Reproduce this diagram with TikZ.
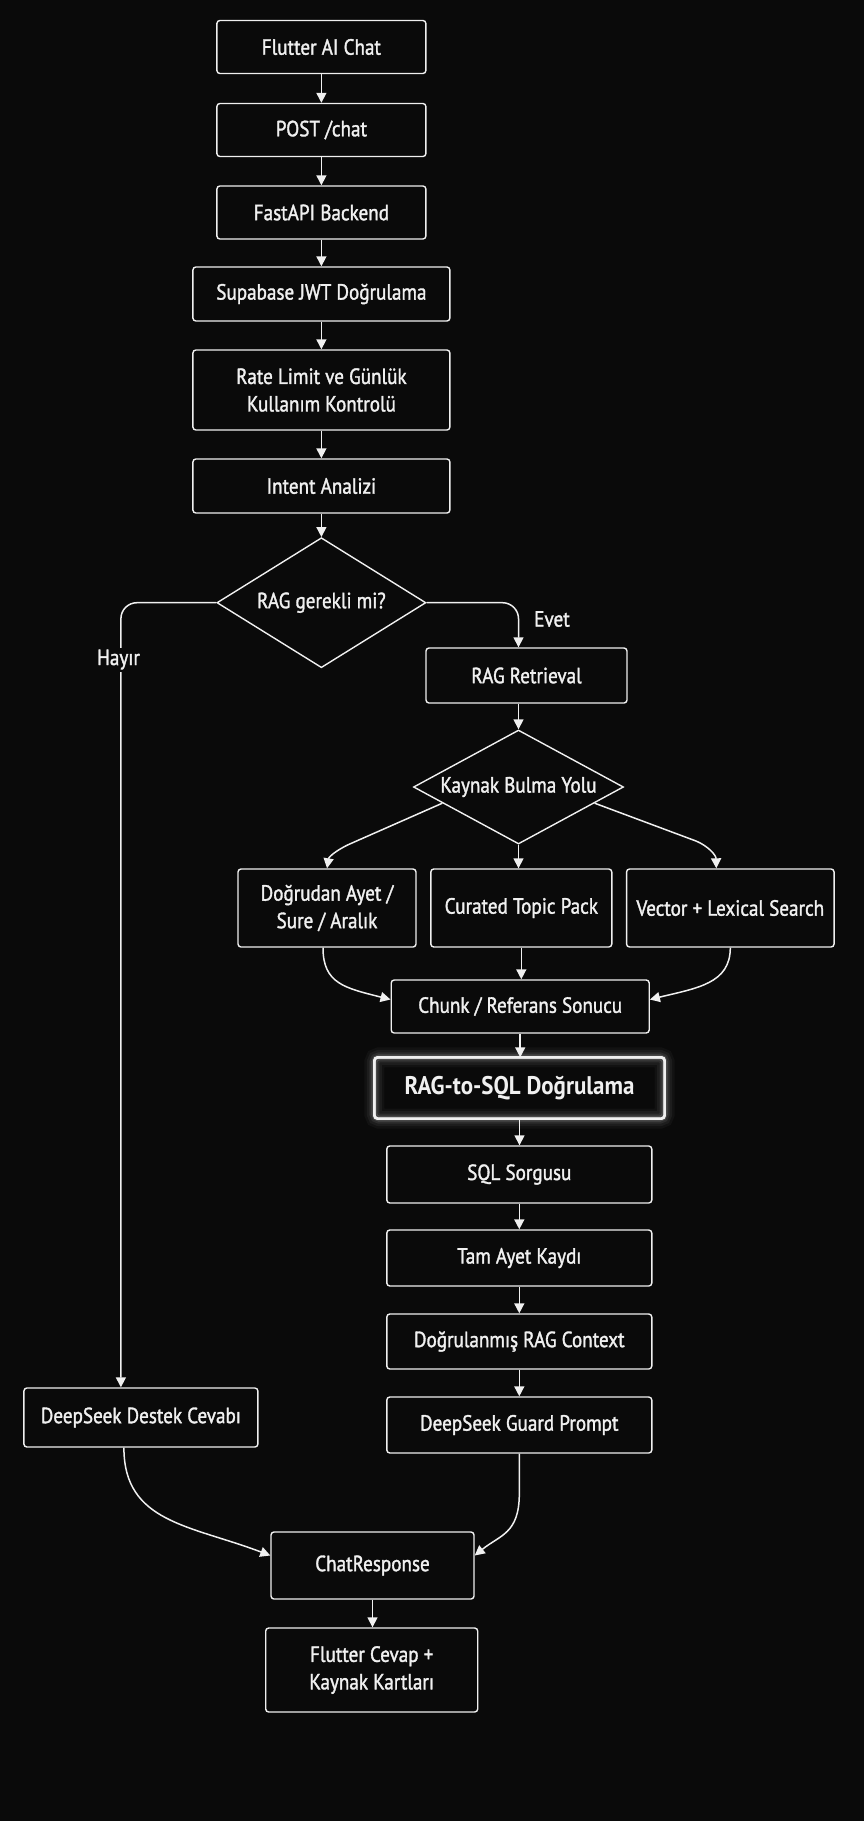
\documentclass[tikz,border=0pt]{standalone}
\usepackage{fontspec}
\setmainfont{PT Sans}[FakeStretch=0.87,FakeBold=1.5]
\newfontfamily\bigfam{PT Sans}[FakeStretch=0.9]
\usetikzlibrary{arrows.meta,shapes.geometric,calc}
\definecolor{bg}{HTML}{0A0A0A}
\definecolor{fg}{HTML}{F0F0F0}
\tikzset{
  box/.style={draw=fg, fill=bg, rounded corners=3pt, line width=1.4pt, text=fg,
    align=center, inner sep=0pt, font=\fontsize{22}{27.5}\selectfont},
  dia/.style={draw=fg, fill=bg, diamond, line width=1.4pt, inner sep=0pt},
  lbl/.style={text=fg, font=\fontsize{22}{26}\selectfont, inner sep=2pt},
  arr/.style={draw=fg, line width=1.5pt, -{Triangle[length=10pt,width=10pt]}},
}
\begin{document}
\begin{tikzpicture}[x=1pt,y=-1pt]
\fill[bg] (0,0) rectangle (864,1821);
\useasboundingbox (0,0) rectangle (864,1821);

% main column
\node[box, minimum width=209pt, minimum height=53pt] (n1) at (321.4,47) {Flutter AI Chat};
\node[box, minimum width=209pt, minimum height=53pt] (n2) at (321.4,130) {POST /chat};
\node[box, minimum width=209pt, minimum height=53pt] (n3) at (321.4,212.5) {FastAPI Backend};
\node[box, minimum width=257pt, minimum height=54pt] (n4) at (321.4,294) {Supabase JWT Doğrulama};
\node[box, minimum width=257pt, minimum height=80pt] (n5) at (321.4,390) {Rate Limit ve Günlük\\Kullanım Kontrolü};
\node[box, minimum width=257pt, minimum height=54pt] (n6) at (321.4,486) {Intent Analizi};

\node[dia, minimum width=209pt, minimum height=130pt] (d1) at (321.4,602.7) {};
\node[lbl] (d1t) at (d1.center) {RAG gerekli mi?};

\node[box, minimum width=201pt, minimum height=55pt] (n7) at (526.5,675.5) {RAG Retrieval};

\node[dia, minimum width=210pt, minimum height=114pt] (d2) at (518.5,787) {};
\node[lbl] (d2t) at (d2.center) {Kaynak Bulma Yolu};

\node[box, minimum width=178pt, minimum height=78pt] (b1) at (327,908) {Doğrudan Ayet /\\Sure / Aralık};
\node[box, minimum width=181pt, minimum height=78pt] (b2) at (521.3,908) {Curated Topic Pack};
\node[box, minimum width=207.5pt, minimum height=78pt] (b3) at (730.3,908) {Vector + Lexical Search};

\node[box, minimum width=258pt, minimum height=53pt] (chunk) at (520.2,1006.5) {Chunk / Referans Sonucu};

\node[box, minimum width=289pt, minimum height=60pt, font=\bigfam\bfseries\fontsize{25.5}{30}\selectfont] (rs) at (519.5,1088) {RAG-to-SQL Doğrulama};
\foreach \w/\o in {20/0.035,15/0.05,10/0.08,6/0.14}
  \draw[fg, line width=\w pt, opacity=\o, rounded corners=5pt] (rs.south west) rectangle (rs.north east);
\draw[fg, line width=2.4pt, rounded corners=3pt] (rs.south west) rectangle (rs.north east);

\node[box, minimum width=265pt, minimum height=57pt] (sql) at (519.3,1174.5) {SQL Sorgusu};
\node[box, minimum width=265pt, minimum height=56pt] (tam) at (519.3,1258) {Tam Ayet Kaydı};
\node[box, minimum width=265pt, minimum height=55pt] (dog) at (519.3,1341.5) {Doğrulanmış RAG Context};
\node[box, minimum width=265pt, minimum height=56pt] (guard) at (519.3,1425) {DeepSeek Guard Prompt};

\node[box, minimum width=234pt, minimum height=59pt] (destek) at (140.9,1417.5) {DeepSeek Destek Cevabı};

\node[box, minimum width=203pt, minimum height=67pt] (resp) at (372.5,1565.5) {ChatResponse};
\node[box, minimum width=212pt, minimum height=84pt] (cevap) at (371.7,1670) {Flutter Cevap +\\Kaynak Kartları};

% connectors
\draw[arr] (n1) -- (n2);
\draw[arr] (n2) -- (n3);
\draw[arr] (n3) -- (n4);
\draw[arr] (n4) -- (n5);
\draw[arr] (n5) -- (n6);
\draw[arr] (n6.south) -- (d1.north);

\draw[arr, rounded corners=16pt] (d1.west) -| ([xshift=-20pt]destek.north);
\node[lbl, fill=bg] (hayir) at (118.5,659.6) {Hayır};
\draw[arr, rounded corners=16pt] (d1.east) -| ([xshift=-8pt]n7.north);
\node[lbl] (evet) at (552,619) {Evet};

\draw[arr] ([xshift=-8pt]n7.south) -- (d2.north);

\draw[arr] ($(d2.west)!0.28!(d2.south)$) -- (352,843) .. controls (340,848) and (329,856) .. (b1.north);
\draw[arr] (d2.south) -- (d2.south |- b2.north);
\draw[arr] ($(d2.east)!0.28!(d2.south)$) -- (696,841) .. controls (708,846) and (716,855) .. ([xshift=-14pt]b3.north);

\draw[arr] ([xshift=-4pt]b1.south) .. controls ([xshift=-4pt,yshift=-36pt]b1.south) and (345,988) .. ([yshift=7pt]chunk.west);
\draw[arr] (b2.south) -- (b2.south |- chunk.north);
\draw[arr] ([xshift=0pt]b3.south) .. controls ([yshift=-36pt]b3.south) and (697,988) .. ([yshift=7pt]chunk.east);

\draw[arr] (chunk.south) -- (chunk.south |- rs.north);
\draw[arr] (rs.south) -- (rs.south |- sql.north);
\draw[arr] (sql) -- (tam);
\draw[arr] (tam) -- (dog);
\draw[arr] (dog) -- (guard);

\draw[arr] ([xshift=-17pt]destek.south) .. controls ([xshift=-17pt,yshift=-75pt]destek.south) and (190,1525) .. ([yshift=10pt]resp.west);
\draw[arr] (guard.south) -- ++(0,40) .. controls ++(0,40) and (500,1535) .. ([yshift=10pt]resp.east);
\draw[arr] (resp.south) -- (resp.south |- cevap.north);
\end{tikzpicture}
\end{document}
